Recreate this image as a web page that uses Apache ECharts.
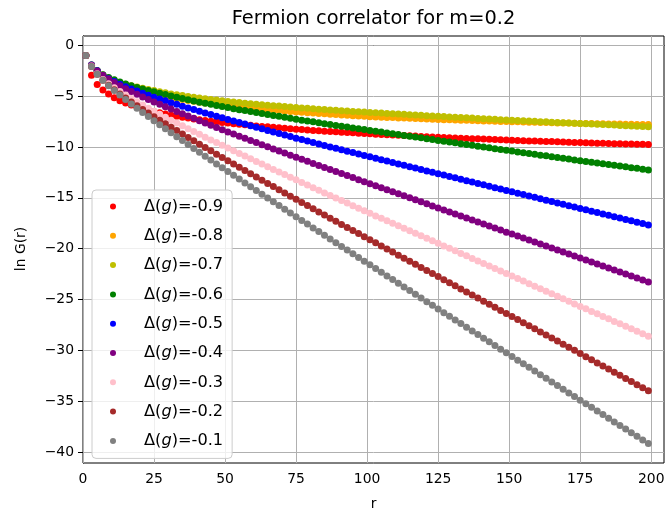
<!DOCTYPE html>
<html><head><meta charset="utf-8">
<script src="https://cdn.jsdelivr.net/npm/echarts@6/dist/echarts.min.js"></script>
<style>html,body{margin:0;padding:0;background:#fff}#c{width:668px;height:517px}</style>
</head><body><div id="c"></div>
<script>
const r = [1,3,5,7,9,11,13,15,17,19,21,23,25,27,29,31,33,35,37,39,41,43,45,47,49,51,53,55,57,59,61,63,65,67,69,71,73,75,77,79,81,83,85,87,89,91,93,95,97,99,101,103,105,107,109,111,113,115,117,119,121,123,125,127,129,131,133,135,137,139,141,143,145,147,149,151,153,155,157,159,161,163,165,167,169,171,173,175,177,179,181,183,185,187,189,191,193,195,197,199];

const g09 = [-1.0,-2.95,-3.85,-4.4,-4.8,-5.15,-5.45,-5.68,-5.88,-6.06,-6.22,-6.37,-6.52,
-6.64,-6.76,-6.88,-6.97,-7.07,-7.16,-7.24,-7.31,-7.39,-7.46,-7.52,-7.59,-7.65,
-7.71,-7.76,-7.82,-7.87,-7.93,-7.98,-8.02,-8.07,-8.11,-8.16,-8.2,-8.25,
-8.29,-8.33,-8.37,-8.4,-8.44,-8.48,-8.51,-8.55,-8.58,-8.61,-8.64,-8.68,-8.71,
-8.74,-8.77,-8.79,-8.82,-8.85,-8.88,-8.9,-8.93,-8.96,-8.99,-9.01,-9.04,
-9.06,-9.09,-9.11,-9.13,-9.16,-9.18,-9.2,-9.22,-9.25,-9.27,-9.29,-9.32,-9.34,
-9.36,-9.38,-9.4,-9.42,-9.44,-9.46,-9.47,-9.49,-9.51,-9.53,-9.55,-9.57,
-9.59,-9.6,-9.62,-9.63,-9.65,-9.67,-9.68,-9.7,-9.71,-9.73,-9.74,-9.76];

const g08 = [-1.0,-1.98,-2.55,-2.97,-3.3,-3.57,-3.8,-4.0,-4.18,-4.35,-4.51,-4.66,-4.8,
-4.92,-5.03,-5.15,-5.24,-5.34,-5.43,-5.51,-5.59,-5.67,-5.75,-5.82,-5.88,-5.95,
-6.0,-6.06,-6.11,-6.17,-6.22,-6.27,-6.31,-6.36,-6.41,-6.46,-6.5,-6.55,
-6.59,-6.63,-6.67,-6.7,-6.74,-6.78,-6.81,-6.85,-6.88,-6.92,-6.95,-6.99,-7.02,
-7.04,-7.07,-7.09,-7.11,-7.14,-7.16,-7.18,-7.21,-7.23,-7.25,-7.28,-7.3,
-7.32,-7.33,-7.35,-7.37,-7.38,-7.4,-7.42,-7.44,-7.45,-7.47,-7.49,-7.5,-7.52,
-7.53,-7.55,-7.56,-7.57,-7.59,-7.6,-7.61,-7.63,-7.64,-7.65,-7.67,-7.68,
-7.69,-7.7,-7.71,-7.72,-7.73,-7.74,-7.75,-7.76,-7.77,-7.78,-7.79,-7.8];

const g07 = [-1.0,-1.95,-2.5,-2.92,-3.22,-3.46,-3.66,-3.83,-3.98,-4.11,-4.23,-4.34,-4.45,
-4.56,-4.67,-4.78,-4.87,-4.95,-5.04,-5.11,-5.19,-5.26,-5.33,-5.39,-5.46,-5.52,
-5.58,-5.63,-5.69,-5.74,-5.8,-5.85,-5.89,-5.94,-5.98,-6.03,-6.07,-6.12,
-6.16,-6.2,-6.24,-6.28,-6.32,-6.36,-6.39,-6.43,-6.46,-6.5,-6.53,-6.57,-6.6,
-6.63,-6.66,-6.7,-6.73,-6.76,-6.79,-6.82,-6.85,-6.89,-6.92,-6.95,-6.98,
-7.01,-7.04,-7.07,-7.1,-7.13,-7.16,-7.19,-7.22,-7.25,-7.28,-7.31,-7.34,-7.37,
-7.4,-7.42,-7.45,-7.48,-7.51,-7.53,-7.56,-7.59,-7.62,-7.65,-7.67,-7.7,
-7.72,-7.75,-7.77,-7.8,-7.82,-7.85,-7.88,-7.9,-7.93,-7.95,-7.98,-8.0];

const g06 = [-1.0,-1.93,-2.47,-2.89,-3.17,-3.4,-3.61,-3.8,-3.98,-4.14,-4.29,-4.44,-4.58,
-4.71,-4.85,-4.98,-5.11,-5.23,-5.36,-5.47,-5.59,-5.7,-5.81,-5.92,-6.02,-6.13,
-6.23,-6.33,-6.42,-6.52,-6.62,-6.71,-6.8,-6.9,-6.99,-7.08,-7.18,-7.27,
-7.36,-7.45,-7.53,-7.62,-7.71,-7.8,-7.88,-7.96,-8.04,-8.13,-8.21,-8.29,-8.37,
-8.45,-8.53,-8.62,-8.7,-8.78,-8.86,-8.94,-9.02,-9.1,-9.19,-9.27,-9.35,
-9.43,-9.51,-9.59,-9.67,-9.75,-9.83,-9.92,-10.0,-10.08,-10.16,-10.24,-10.32,-10.4,
-10.48,-10.56,-10.64,-10.72,-10.8,-10.87,-10.95,-11.03,-11.11,-11.19,-11.27,-11.35,
-11.43,-11.5,-11.58,-11.65,-11.73,-11.8,-11.88,-11.95,-12.03,-12.1,-12.18,-12.25];

const g05 = [-1.0,-1.95,-2.5,-2.97,-3.29,-3.57,-3.83,-4.07,-4.29,-4.5,-4.71,-4.91,-5.1,
-5.28,-5.46,-5.64,-5.81,-5.99,-6.16,-6.32,-6.49,-6.65,-6.81,-6.97,-7.13,-7.29,
-7.44,-7.6,-7.75,-7.91,-8.06,-8.21,-8.37,-8.52,-8.67,-8.83,-8.98,-9.13,
-9.27,-9.42,-9.56,-9.7,-9.85,-9.99,-10.13,-10.27,-10.41,-10.55,-10.69,-10.83,-10.97,
-11.11,-11.25,-11.38,-11.52,-11.66,-11.8,-11.93,-12.07,-12.21,-12.35,-12.48,-12.62,
-12.76,-12.9,-13.03,-13.17,-13.31,-13.45,-13.59,-13.72,-13.86,-14.0,-14.14,-14.27,-14.41,
-14.55,-14.68,-14.82,-14.95,-15.09,-15.23,-15.36,-15.5,-15.63,-15.77,-15.9,-16.04,
-16.18,-16.31,-16.45,-16.58,-16.72,-16.85,-16.99,-17.12,-17.26,-17.39,-17.53,-17.66];

const g04 = [-1.0,-1.97,-2.52,-2.95,-3.32,-3.66,-3.97,-4.27,-4.55,-4.82,-5.08,-5.33,-5.57,
-5.8,-6.04,-6.27,-6.5,-6.72,-6.95,-7.18,-7.41,-7.63,-7.86,-8.08,-8.3,-8.52,
-8.73,-8.94,-9.15,-9.36,-9.57,-9.78,-9.98,-10.19,-10.39,-10.6,-10.8,-11.01,
-11.21,-11.41,-11.61,-11.81,-12.01,-12.21,-12.41,-12.61,-12.81,-13.01,-13.21,-13.41,-13.61,
-13.81,-14.01,-14.2,-14.4,-14.6,-14.8,-15.0,-15.19,-15.39,-15.59,-15.79,-15.99,
-16.19,-16.39,-16.58,-16.78,-16.98,-17.18,-17.38,-17.57,-17.77,-17.97,-18.17,-18.37,-18.56,
-18.76,-18.95,-19.15,-19.34,-19.54,-19.74,-19.93,-20.13,-20.32,-20.52,-20.72,-20.91,
-21.11,-21.3,-21.5,-21.69,-21.89,-22.09,-22.28,-22.48,-22.67,-22.87,-23.07,-23.26];

const g03 = [-1.0,-2.05,-2.8,-3.36,-3.79,-4.18,-4.55,-4.9,-5.23,-5.56,-5.87,-6.18,-6.48,
-6.77,-7.07,-7.36,-7.64,-7.92,-8.2,-8.48,-8.75,-9.03,-9.3,-9.57,-9.83,-10.1,
-10.36,-10.63,-10.89,-11.16,-11.42,-11.68,-11.94,-12.2,-12.45,-12.71,-12.97,-13.23,
-13.49,-13.74,-14.0,-14.25,-14.51,-14.76,-15.01,-15.26,-15.51,-15.77,-16.02,-16.27,-16.52,
-16.77,-17.01,-17.26,-17.5,-17.75,-17.99,-18.24,-18.49,-18.73,-18.98,-19.22,-19.47,
-19.72,-19.96,-20.21,-20.46,-20.7,-20.95,-21.2,-21.44,-21.69,-21.94,-22.19,-22.43,-22.68,
-22.93,-23.18,-23.43,-23.68,-23.93,-24.18,-24.42,-24.67,-24.92,-25.17,-25.42,-25.67,
-25.91,-26.16,-26.4,-26.65,-26.89,-27.14,-27.38,-27.62,-27.87,-28.11,-28.36,-28.6];

const g02 = [-1.0,-2.1,-2.85,-3.45,-3.93,-4.37,-4.79,-5.18,-5.57,-5.94,-6.31,-6.67,-7.02,
-7.37,-7.71,-8.06,-8.39,-8.73,-9.06,-9.39,-9.72,-10.05,-10.38,-10.71,-11.03,-11.36,
-11.68,-12.0,-12.32,-12.64,-12.96,-13.27,-13.58,-13.89,-14.2,-14.52,-14.83,-15.14,
-15.45,-15.76,-16.07,-16.38,-16.69,-17.0,-17.3,-17.61,-17.91,-18.21,-18.51,-18.82,-19.12,
-19.42,-19.72,-20.03,-20.33,-20.63,-20.93,-21.23,-21.53,-21.84,-22.14,-22.44,-22.74,
-23.04,-23.34,-23.64,-23.95,-24.25,-24.55,-24.85,-25.15,-25.45,-25.76,-26.06,-26.36,-26.66,
-26.96,-27.27,-27.57,-27.87,-28.18,-28.48,-28.78,-29.08,-29.39,-29.69,-29.99,-30.3,
-30.61,-30.91,-31.22,-31.52,-31.83,-32.13,-32.44,-32.75,-33.05,-33.36,-33.66,-33.97];

const g01 = [-1.0,-2.1,-2.85,-3.45,-3.97,-4.44,-4.9,-5.34,-5.77,-6.19,-6.6,-7.01,-7.41,
-7.81,-8.2,-8.6,-8.99,-9.37,-9.76,-10.14,-10.52,-10.9,-11.28,-11.66,-12.03,-12.41,
-12.78,-13.15,-13.53,-13.9,-14.27,-14.64,-15.01,-15.38,-15.74,-16.11,-16.48,-16.85,
-17.22,-17.58,-17.95,-18.31,-18.68,-19.04,-19.4,-19.77,-20.13,-20.49,-20.86,-21.22,-21.58,
-21.94,-22.3,-22.67,-23.03,-23.39,-23.75,-24.11,-24.47,-24.83,-25.2,-25.56,-25.92,
-26.28,-26.64,-27.0,-27.36,-27.72,-28.08,-28.43,-28.79,-29.15,-29.51,-29.87,-30.23,-30.59,
-30.95,-31.3,-31.66,-32.02,-32.38,-32.74,-33.09,-33.45,-33.81,-34.17,-34.52,-34.88,
-35.24,-35.59,-35.95,-36.3,-36.66,-37.02,-37.37,-37.73,-38.08,-38.44,-38.8,-39.15];

const deltas = ['-0.9','-0.8','-0.7','-0.6','-0.5','-0.4','-0.3','-0.2','-0.1'];
const seriesValues = [g09,g08,g07,g06,g05,g04,g03,g02,g01];
const xTicks = [0,25,50,75,100,125,150,175,200];
const yTicks = [-40,-35,-30,-25,-20,-15,-10,-5,0];

const colors = ['#ff0000','#ffa500','#bfbf00','#008000','#0000ff','#800080','#ffc0cb','#a52a2a','#808080'];
const FONT = 'DejaVu Sans';
const LF = 16.2;
const names = deltas.map(d => 'Δ(g)=' + d);

const chart = echarts.init(document.getElementById('c'), null, {renderer: 'canvas'});

const series = [{
  name: '__grid', type: 'scatter', data: [], silent: true,
  markLine: {
    z: 1, silent: true, animation: false, symbol: ['none','none'],
    label: {show: false}, emphasis: {disabled: true},
    lineStyle: {color: '#b0b0b0', width: 1, type: 'solid'},
    data: xTicks.map(v => ({xAxis: v})).concat(yTicks.map(v => ({yAxis: v})))
  }
}];
seriesValues.forEach((vals, i) => {
  series.push({
    name: names[i], type: 'scatter', symbol: 'circle', symbolSize: 7,
    itemStyle: {color: colors[i], opacity: 1},
    emphasis: {disabled: true},
    data: r.map((x, k) => [x, vals[k]])
  });
});

const minus = v => String(v).replace('-', '\u2212');

chart.setOption({
  animation: false,
  backgroundColor: '#ffffff',
  grid: {left: 83, right: 4, top: 36, bottom: 54, show: true, borderColor: '#000', borderWidth: 1, backgroundColor: 'transparent'},
  xAxis: {
    type: 'value', min: 0, max: 204.5,
    axisLine: {show: true, lineStyle: {color: '#000', width: 1}},
    axisTick: {show: true, length: 5, lineStyle: {color: '#000'}, customValues: xTicks},
    axisLabel: {customValues: xTicks, color: '#000', fontFamily: FONT, fontSize: 13.9, margin: 9, formatter: minus},
    splitLine: {show: false}
  },
  yAxis: {
    type: 'value', min: -41.06, max: 0.91,
    axisLine: {show: true, lineStyle: {color: '#000', width: 1}},
    axisTick: {show: true, length: 5, lineStyle: {color: '#000'}, customValues: yTicks},
    axisLabel: {customValues: yTicks, color: '#000', fontFamily: FONT, fontSize: 13.9, margin: 9, formatter: minus},
    splitLine: {show: false}
  },
  legend: {
    data: names, orient: 'vertical', left: 92, top: 190,
    padding: [7, 9, 8, 18], itemWidth: 14, itemHeight: 6, itemGap: 10.3,
    icon: 'circle',
    backgroundColor: 'rgba(255,255,255,0.8)', borderColor: '#cccccc', borderWidth: 1, borderRadius: 4,
    selectedMode: false,
    formatter: name => '{p|Δ(}{i|g}{a|)' + name.slice(4) + '}',
    textStyle: {
      color: '#000', fontFamily: FONT, fontSize: LF, lineHeight: 19,
      rich: {
        p: {fontFamily: FONT, fontSize: LF, color: '#000', padding: [0,0,0,19]},
        i: {fontFamily: FONT, fontSize: LF, color: '#000', fontStyle: 'italic'},
        a: {fontFamily: FONT, fontSize: LF, color: '#000'}
      }
    }
  },
  graphic: [
    {type: 'text', x: 373.5, y: 19, style: {text: 'Fermion correlator for m=0.2', font: '19.4px "DejaVu Sans"', fill: '#000', textAlign: 'center', textVerticalAlign: 'middle'}},
    {type: 'text', x: 373.5, y: 504, style: {text: 'r', font: '13.9px "DejaVu Sans"', fill: '#000', textAlign: 'center', textVerticalAlign: 'middle'}},
    {type: 'text', x: 21, y: 249, rotation: Math.PI / 2, style: {text: 'ln G(r)', font: '13.9px "DejaVu Sans"', fill: '#000', textAlign: 'center', textVerticalAlign: 'middle'}}
  ],
  series: series
});
</script>
</body></html>
